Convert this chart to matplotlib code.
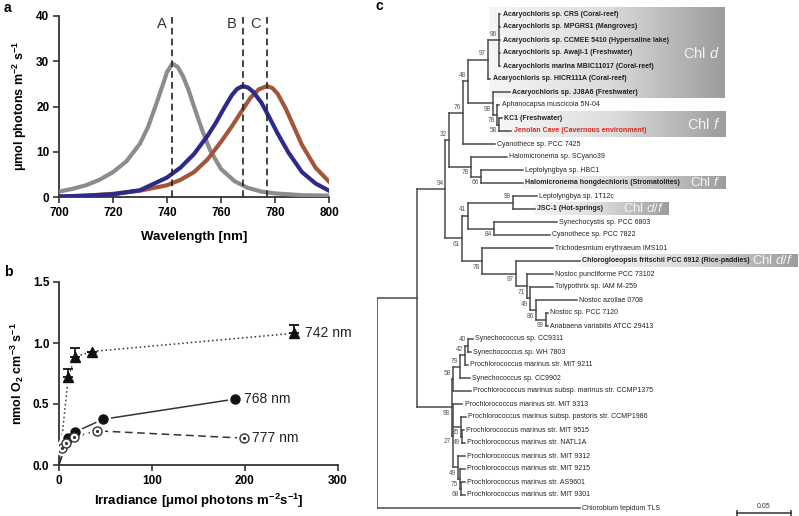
import re
import numpy as np
import matplotlib
matplotlib.use("Agg")
import matplotlib.pyplot as plt
from matplotlib.collections import LineCollection
from matplotlib.colors import LinearSegmentedColormap

plt.rcParams['font.family'] = ['Liberation Sans', 'DejaVu Sans']
plt.rcParams['mathtext.fontset'] = 'custom'
plt.rcParams['mathtext.rm'] = 'Liberation Sans'
plt.rcParams['mathtext.bf'] = 'Liberation Sans:bold'
plt.rcParams['mathtext.it'] = 'Liberation Sans:italic'
plt.rcParams['mathtext.default'] = 'bf'

#========= Data: panel a (LED spectra) ===========
wl_742 = [700, 705, 710, 715, 720, 725, 730, 733, 736, 738, 740, 742, 744, 746, 748, 750, 753, 756,
          760, 765, 770, 775, 780, 790, 800]
p_742 = [1.2, 1.8, 2.6, 3.8, 5.5, 7.9, 11.8, 15.5, 20.5, 24.0, 27.6, 29.5, 28.7, 26.6, 23.6, 20.0, 14.8,
         10.3, 6.2, 3.5, 2.0, 1.2, 0.8, 0.4, 0.3]
wl_768 = [700, 710, 720, 730, 740, 745, 750, 755, 758, 761, 764, 766, 768, 770, 772, 775, 778, 781,
          785, 790, 795, 800]
p_768 = [0.1, 0.3, 0.6, 1.5, 4.3, 6.5, 9.5, 13.5, 16.3, 19.5, 22.5, 23.9, 24.5, 24.2, 23.2, 20.8, 17.5,
         14.0, 9.8, 5.5, 3.0, 1.4]
wl_777 = [700, 710, 720, 730, 740, 745, 750, 755, 760, 764, 768, 771, 774, 777, 779, 781, 784, 787,
          790, 795, 800]
p_777 = [0.1, 0.3, 0.7, 1.4, 2.6, 3.8, 5.5, 8.3, 12.2, 15.6, 19.3, 22.0, 23.8, 24.5, 24.1, 22.8, 19.5,
         15.5, 11.5, 6.5, 3.4]
peak_nm = [742, 768, 777]
peak_names = ['A', 'B', 'C']

#========= Data: panel b (O2 evolution) ===========
irr_742 = [0, 10, 17, 35, 253]
o2_742 = [0.0, 0.72, 0.885, 0.93, 1.08]
err_742 = [0.0, 0.065, 0.07, 0.0, 0.065]
irr_768 = [0, 10, 17, 47.5, 189]
o2_768 = [0.0, 0.225, 0.27, 0.375, 0.54]
irr_777 = [0, 3, 8, 16, 41, 199]
o2_777 = [0.0, 0.14, 0.18, 0.23, 0.28, 0.22]

#========= Data: panel c (16S tree) ===========
taxa = [
    "Acaryochloris sp. CRS (Coral-reef)",
    "Acaryochloris sp. MPGRS1 (Mangroves)",
    "Acaryochloris sp. CCMEE 5410 (Hypersaline lake)",
    "Acaryochloris sp. Awaji-1 (Freshwater)",
    "Acaryochloris marina MBIC11017 (Coral-reef)",
    "Acaryochloris sp. HICR111A (Coral-reef)",
    "Acaryochloris sp. JJ8A6 (Freshwater)",
    "Aphanocapsa muscicola 5N-04",
    "KC1 (Freshwater)",
    "Jenolan Cave (Cavernous environment)",
    "Cyanothece sp. PCC 7425",
    "Halomicronema sp. SCyano39",
    "Leptolyngbya sp. HBC1",
    "Halomicronema hongdechloris (Stromatolites)",
    "Leptolyngbya sp. 1T12c",
    "JSC-1 (Hot-springs)",
    "Synechocystis sp. PCC 6803",
    "Cyanothece sp. PCC 7822",
    "Trichodesmium erythraeum IMS101",
    "Chlorogloeopsis fritschii PCC 6912 (Rice-paddies)",
    "Nostoc punctiforme PCC 73102",
    "Tolypothrix sp. IAM M-259",
    "Nostoc azollae 0708",
    "Nostoc sp. PCC 7120",
    "Anabaena variabilis ATCC 29413",
    "Synechococcus sp. CC9311",
    "Synechococcus sp. WH 7803",
    "Prochlorococcus marinus str. MIT 9211",
    "Synechococcus sp. CC9902",
    "Prochlorococcus marinus subsp. marinus str. CCMP1375",
    "Prochlorococcus marinus str. MIT 9313",
    "Prochlorococcus marinus subsp. pastoris str. CCMP1986",
    "Prochlorococcus marinus str. MIT 9515",
    "Prochlorococcus marinus str. NATL1A",
    "Prochlorococcus marinus str. MIT 9312",
    "Prochlorococcus marinus str. MIT 9215",
    "Prochlorococcus marinus str. AS9601",
    "Prochlorococcus marinus str. MIT 9301",
    "Chlorobium tepidum TLS",
]
bold_taxa = [0, 1, 2, 3, 4, 5, 6, 8, 9, 13, 15, 19]
red_taxa = [9]

# clades in Newick (leaf = index into taxa, internal label = bootstrap)
acary = "((0:0.0014,1:0.0014,2:0.0014,3:0.0014,4:0.0014)96:0.0102,5:0.0023)97:0.0182"
chlf = "(6:0.0160,(7:0.0023,(8:0.0019,9:0.0111)58:0.0023)78:0.0040)98:0.0226"
upper = "(((" + acary + "," + chlf + ")48:0.0046,10:0.0293)76:0.0130," \
        "(11:0.0336,(12:0.0389,13:0.0389)66:0.0095)78:0.0198)32:0.0035"
nostoc = "(18:0.0657,(19:0.0593,(20:0.0241,(21:0.0210,(22:0.0377,(23:0.0019,24:0.0019)99:0.0093)86:0.0056)49:0.0031)71:0.0099)97:0.0318)78:0.0185"
middle = "(((14:0.0222,15:0.0207)99:0.0417,(16:0.0581,17:0.0519)84:0.0244)41:0.0056," + nostoc + ")61:0.0150"
syn = "((((25:0.0049,26:0.0025)40:0.0028,27:0.0028)42:0.0046,28:0.0093)79:0.0065,29:0.0167)58:0.0012"
pro = "(30:0.0088,(31:0.0046,(32:0.0019,33:0.0028)49:0.0009)85:0.0074," \
      "(34:0.0065,(35:0.0046,(36:0.0037,37:0.0037)68:0.0009)75:0.0019)49:0.0046)27:0.0012"
newick = "(((" + upper + "," + middle + ")94:0.0267,(" + syn + "," + pro + ")98:0.0324):0.0370,38:0.1880)"

chl_boxes = [([0, 1, 2, 3, 4, 5, 6], r"Chl $\mathit{d}$"),
             ([8, 9], r"Chl $\mathit{f}$"),
             ([13], r"Chl $\mathit{f}$"),
             ([15], r"Chl $\mathit{d/f}$"),
             ([19], r"Chl $\mathit{d/f}$")]

#========= Figure ===========
W, H = 799, 516
fig = plt.figure(figsize=(W / 100, H / 100), dpi=100)


def px_axes(x0, y0, x1, y1):
    return fig.add_axes([x0 / W, 1 - y1 / H, (x1 - x0) / W, (y1 - y0) / H])


def style_axes(ax):
    ax.spines[['top', 'right']].set_visible(False)
    for s in ['left', 'bottom']:
        ax.spines[s].set_linewidth(1.3)
        ax.spines[s].set_color('#333333')
    ax.tick_params(width=1.2, length=4, color='#333333', labelsize=8.5, pad=3)
    for lab in ax.get_xticklabels() + ax.get_yticklabels():
        lab.set_fontweight('bold')


# ---- panel a
ax1 = px_axes(59, 16, 329, 197)
ax1.plot(wl_742, p_742, color='#8c8c8c', lw=3.0, zorder=3, solid_joinstyle='round')
ax1.plot(wl_777, p_777, color='#a3553a', lw=3.0, zorder=3, solid_joinstyle='round')
ax1.plot(wl_768, p_768, color='#2e2a8c', lw=3.0, zorder=4, solid_joinstyle='round')
for w, lab in zip(peak_nm, peak_names):
    ax1.axvline(w, color='#222222', lw=1.2, ls=(0, (4, 2.5)), zorder=5)
    ax1.text(w - 2.2, 38.3, lab, ha='right', va='center', fontsize=10.5, color='#333333')
ax1.set_xlim(700, 800)
ax1.set_ylim(0, 40)
ax1.set_xticks([700, 720, 740, 760, 780, 800])
ax1.set_yticks([0, 10, 20, 30, 40])
style_axes(ax1)
ax1.set_xlabel('Wavelength [nm]', fontweight='bold', fontsize=9.5, labelpad=9)
ax1.set_ylabel(r'$\mathbf{\mu}$mol photons m$^{-2}$ s$^{-1}$', fontweight='bold', fontsize=9, labelpad=5)

# ---- panel b
ax2 = px_axes(59, 282, 338, 465)
halo = dict(color='white', ls='none', zorder=3, clip_on=False)
ax2.plot(irr_742, o2_742, color='#333333', lw=1.1, ls=(0, (1, 1.8)), zorder=2)
ax2.plot(irr_768, o2_768, color='#333333', lw=1.1, ls='-', zorder=2)
ax2.plot(irr_777, o2_777, color='#333333', lw=1.1, ls=(0, (5, 3)), zorder=2)
ax2.plot(irr_742[1:], o2_742[1:], marker='^', ms=11, **halo)
ax2.plot(irr_768[1:], o2_768[1:], marker='o', ms=10, **halo)
ax2.plot(irr_777[1:], o2_777[1:], marker='o', ms=10, **halo)
ax2.errorbar(irr_742[1:], o2_742[1:], yerr=[np.zeros(len(err_742) - 1), err_742[1:]],
             fmt='^', ms=6.5, color='#111111', ecolor='#111111', elinewidth=1.3,
             capsize=3.5, capthick=1.3, zorder=4, clip_on=False)
ax2.plot(irr_768[1:], o2_768[1:], marker='o', ms=6.5, color='#111111', ls='none', zorder=4)
ax2.plot(irr_777[1:], o2_777[1:], marker='o', ms=6.5, mfc='white', mec='#333333', mew=1.0,
         ls='none', zorder=4)
ax2.plot(irr_777[1:], o2_777[1:], marker='o', ms=1.3, color='#333333', ls='none', zorder=5)
ax2.annotate('742 nm', (irr_742[-1], o2_742[-1]), xytext=(8, 0), textcoords='offset points',
             va='center', fontsize=10, color='#222222')
ax2.annotate('768 nm', (irr_768[-1], o2_768[-1]), xytext=(7, 0), textcoords='offset points',
             va='center', fontsize=10, color='#222222')
ax2.annotate('777 nm', (irr_777[-1], o2_777[-1]), xytext=(6, 0), textcoords='offset points',
             va='center', fontsize=10, color='#222222')
ax2.set_xlim(0, 300)
ax2.set_ylim(0, 1.5)
ax2.set_xticks([0, 100, 200, 300])
ax2.set_yticks([0.0, 0.5, 1.0, 1.5])
ax2.yaxis.set_major_formatter(plt.FormatStrFormatter('%.1f'))
style_axes(ax2)
ax2.set_xlabel(r'Irradiance [$\mathbf{\mu}$mol photons m$^{-2}$s$^{-1}$]', fontweight='bold', fontsize=9.5, labelpad=4)
ax2.set_ylabel(r'nmol O$_2$ cm$^{-3}$ s$^{-1}$', fontweight='bold', fontsize=9, labelpad=5)

fig.text(4 / W, 1 - 8 / H, 'a', fontweight='bold', fontsize=10, va='center')
fig.text(4 / W, 1 - 272 / H, 'b', fontweight='bold', fontsize=10, va='center')
fig.text(375 / W, 1 - 6 / H, 'c', fontweight='bold', fontsize=10, va='center')

# ---- panel c: tree
SCALE = 1080.0  # pixels per substitution unit
ROOT_X = 376.7
ax3 = fig.add_axes([ROOT_X / W, 0, (W - ROOT_X) / W, 1])


def parse(s):
    pos = 0

    def node():
        nonlocal pos
        n = {'children': []}
        if s[pos] == '(':
            pos += 1
            while True:
                n['children'].append(node())
                if s[pos] == ',':
                    pos += 1
                else:
                    break
            pos += 1
        m = re.match(r'([^:,()]*)(?::([0-9.]+))?', s[pos:])
        pos += m.end()
        n['label'] = m.group(1)
        n['len'] = float(m.group(2) or 0)
        return n
    return node()


def layout(n, x0):
    n['x'] = x0 + n['len']
    if n['children']:
        for c in n['children']:
            layout(c, n['x'])
        n['y'] = (n['children'][0]['y'] + n['children'][-1]['y']) / 2
    else:
        n['y'] = int(n['label'])


tree = parse(newick)
layout(tree, 0.0)

segs = []
tips = {}


def walk(n):
    if n['children']:
        segs.append([(n['x'], n['children'][0]['y']), (n['x'], n['children'][-1]['y'])])
        for k, c in enumerate(n['children']):
            segs.append([(n['x'], c['y']), (c['x'], c['y'])])
            if c['children'] and c['label']:
                dy = 4 if k == 0 else -4.5
                ax3.annotate(c['label'], (c['x'], c['y']), xytext=(-1.5, dy), textcoords='offset points',
                             ha='right', va='center', fontsize=4.7, color='#555555')
            walk(c)
    else:
        tips[int(n['label'])] = n['x']


walk(tree)
ax3.add_collection(LineCollection(segs, colors='#4a4a4a', linewidths=1.1, capstyle='projecting'))

for i, name in enumerate(taxa):
    ax3.annotate(name, (tips[i], i), xytext=(1.5, 0), textcoords='offset points', va='center',
                 fontsize=5, fontweight='bold' if i in bold_taxa else 'normal',
                 color='#d42a20' if i in red_taxa else '#222222', zorder=3)

grad_cmap = LinearSegmentedColormap.from_list('g', ['#f6f6f6', '#dcdcdc', '#9c9c9c'])
grad = np.linspace(0, 1, 256).reshape(1, -1)
box_right = [725, 725, 725, 669, 798]
for (rows, txt), xr in zip(chl_boxes, box_right):
    xl = min(tips[r] for r in rows) - 1.0 / SCALE
    xr_d = (xr - ROOT_X) / SCALE
    ax3.imshow(grad, cmap=grad_cmap, aspect='auto', zorder=0, interpolation='bicubic',
               extent=[xl, xr_d, rows[-1] + 0.5, rows[0] - 0.5])
    yc = (rows[0] + rows[-1]) / 2
    ax3.text(xr_d - 5 / SCALE, yc, txt, ha='right', va='center', fontsize=10.5 if len(rows) > 1 else 9.5,
             color='#f4f4f4', zorder=2)

# scale bar 0.05
sb_x0 = (736.7 - ROOT_X) / SCALE
ax3.plot([sb_x0, sb_x0 + 0.05], [38.4, 38.4], color='#333333', lw=1.1, marker='|', ms=4, mew=1.1)
ax3.text(sb_x0 + 0.025, 37.85, '0.05', ha='center', va='center', fontsize=5, color='#333333')

ax3.set_xlim(0, (W - ROOT_X) / SCALE)
ax3.set_ylim((H - 14) / 13.0, -14 / 13.0)
ax3.axis('off')

fig.savefig('out.png', dpi=100)
